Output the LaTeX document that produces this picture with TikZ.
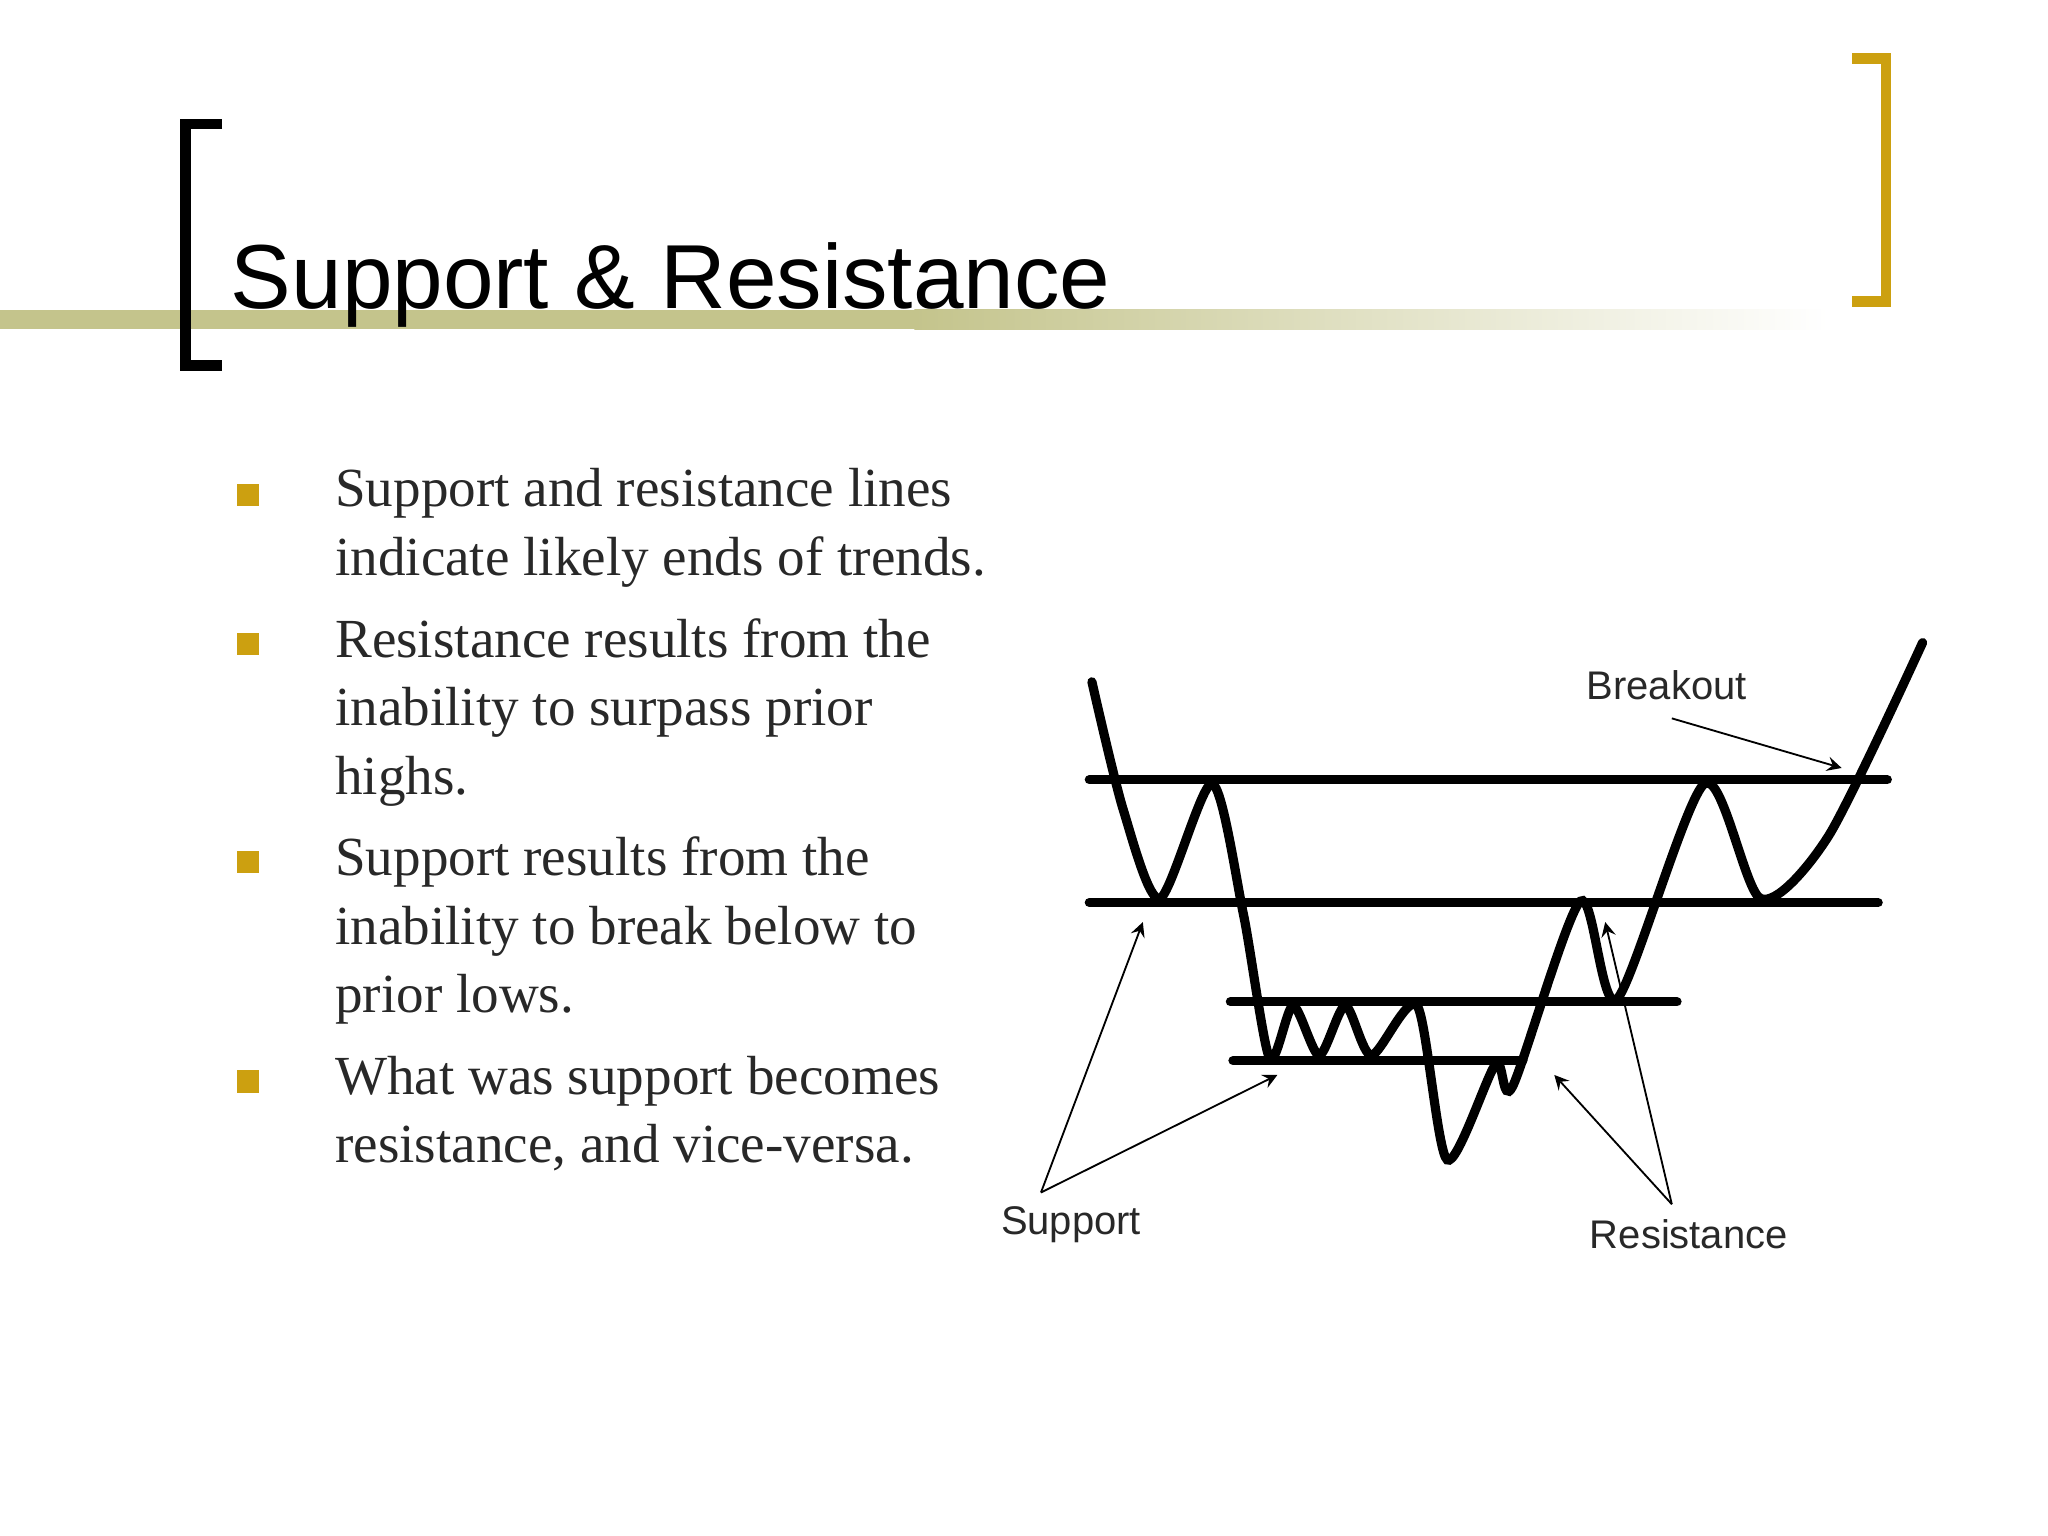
\documentclass[tikz,border=0pt]{standalone}
\usepackage{fontspec}
\setmainfont{Liberation Serif}
\newfontfamily\sansf{Liberation Sans}
\definecolor{gold}{RGB}{204,160,16}
\definecolor{olive}{RGB}{196,196,140}
\definecolor{txt}{RGB}{40,40,40}
\begin{document}
\begin{tikzpicture}[x=0.01cm,y=-0.01cm,
  lvl/.style={line width=2pt,line cap=round},
  ptr/.style={line width=0.4pt,-stealth},
  lab/.style={font=\sansf\fontsize{8.7pt}{10pt}\selectfont,text=txt},
  bul/.style={fill=gold,minimum size=0.17cm,inner sep=0pt},
  btxt/.style={anchor=north west,align=left,font=\fontsize{12pt}{14.9pt}\selectfont,text=txt,inner sep=0pt}]
\useasboundingbox (0,0) rectangle (1568,1176);
\fill[white] (0,0) rectangle (1568,1176);
% gradient bar
\fill[olive] (0,237) rectangle (700,252);
\shade[left color=olive,right color=white] (700,237) rectangle (1400,252);
% brackets
\draw[line width=2.3pt] (170,95) -- (142,95) -- (142,280) -- (170,280);
\draw[gold,line width=2.3pt] (1418,45) -- (1444,45) -- (1444,231) -- (1418,231);
\node[anchor=base west,inner sep=0pt,font=\sansf\fontsize{19.8pt}{24pt}\selectfont] (title) at (176,236) {Support \& Resistance};
% bullets
\node[bul] (b1) at (190,379) {};
\node[bul] (b2) at (190,493) {};
\node[bul] (b3) at (190,660) {};
\node[bul] (b4) at (190,828) {};
\node[btxt] (t1) at (256,358) {Support and resistance lines\\indicate likely ends of trends.};
\node[btxt] (t2) at (256,473) {Resistance results from the\\inability to surpass prior\\highs.};
\node[btxt] (t3) at (256,640) {Support results from the\\inability to break below to\\prior lows.};
\node[btxt] (t4) at (256,808) {What was support becomes\\resistance, and vice-versa.};
% levels
\draw[lvl] (834,597) -- (1445,597);
\draw[lvl] (834,691) -- (1438,691);
\draw[lvl] (942,767) -- (1284,767);
\draw[lvl] (944,812) -- (1166,812);
% price
\draw[line width=2pt,line cap=round] plot[smooth,tension=0.45] coordinates{
(836,522) (860,620) (888,688) (928,600) (952,700) (972,810) (990,770) (1010,808) (1030,770) (1050,808) (1085,770) (1108,888) (1145,815) (1158,832) (1210,690) (1238,765) (1305,600) (1348,688) (1400,640) (1472,492)};
% labels
\node[lab] (sup) at (820,938) {Support};
\node[lab] (res) at (1293,945) {Resistance};
\node[lab] (brk) at (1276,525) {Breakout};
\coordinate (s0) at (797,913);
\coordinate (r0) at (1280,922);
\draw[ptr] (s0) -- (875,706);
\draw[ptr] (s0) -- (978,823);
\draw[ptr] (r0) -- (1190,823);
\draw[ptr] (r0) -- (1229,706);
\draw[ptr] (1280,550) -- (1410,588);
\end{tikzpicture}
\end{document}
